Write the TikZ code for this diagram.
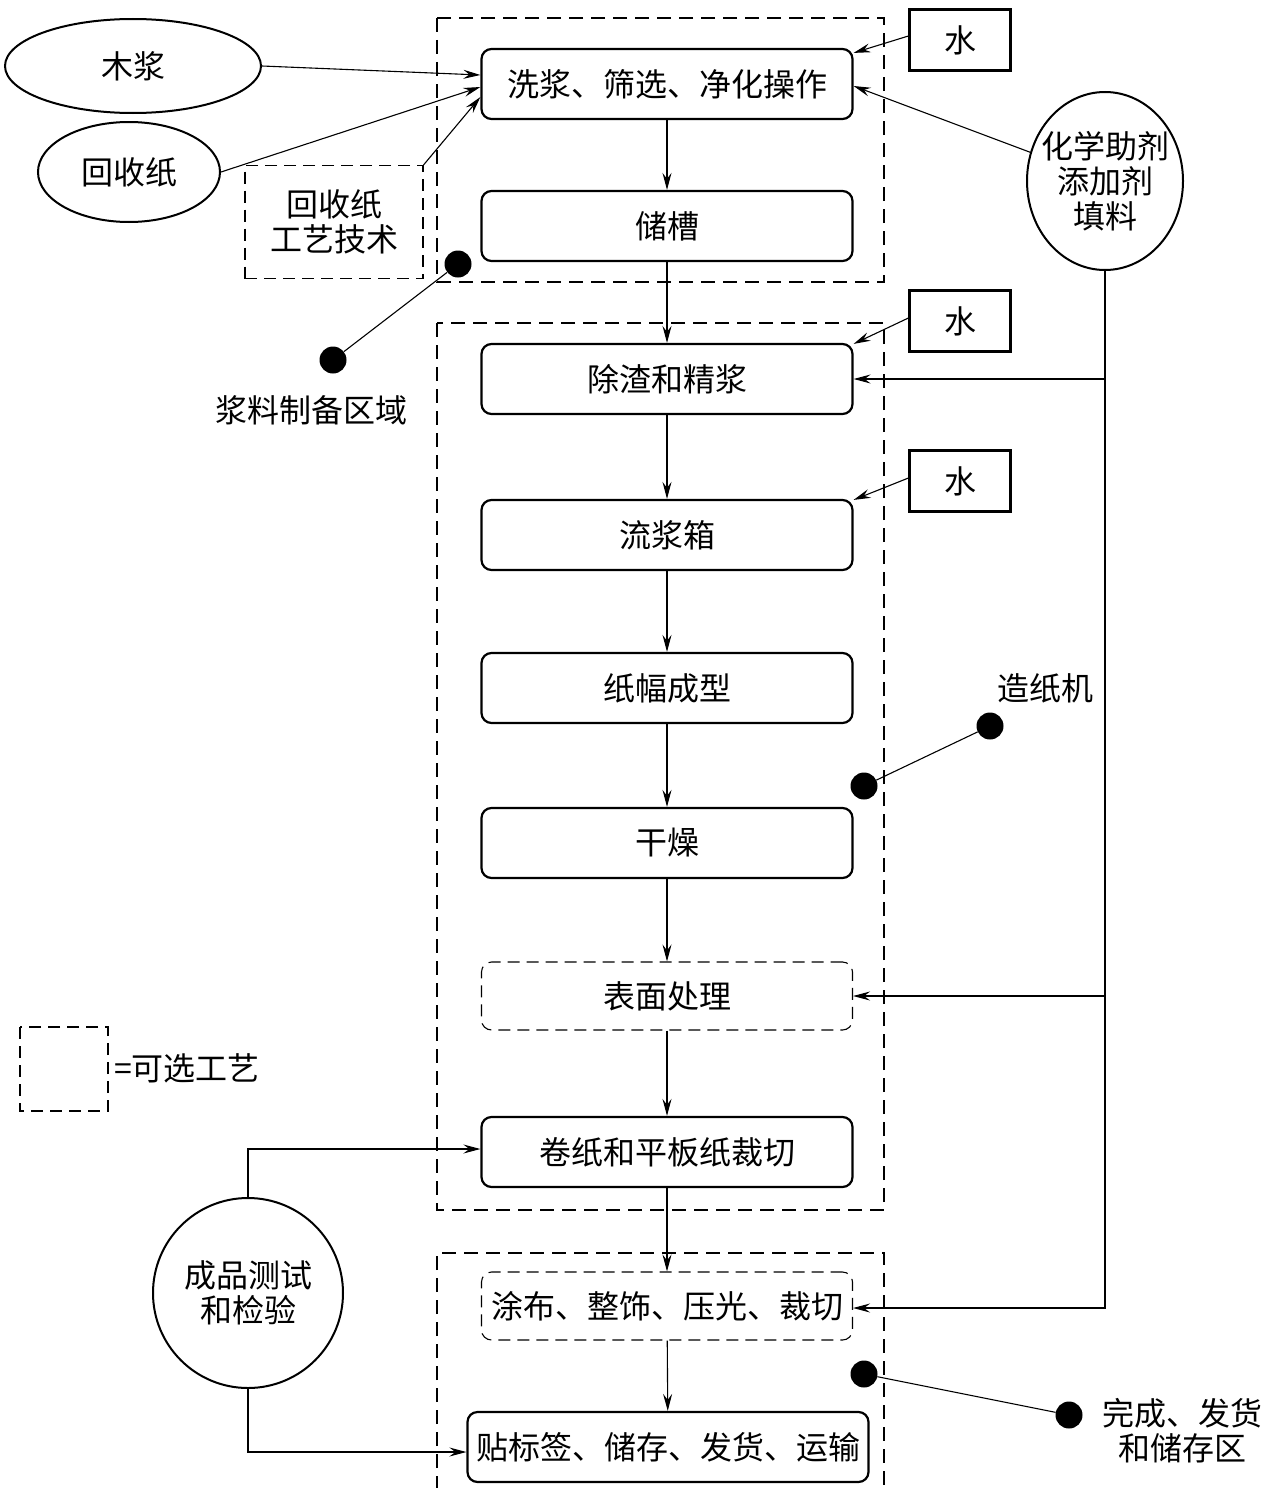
\documentclass[tikz,border=0pt]{standalone}
\usepackage{fontspec}
\newfontfamily\cjk{Noto Sans CJK SC}
\usetikzlibrary{shapes.geometric,arrows.meta,calc}
\tikzset{
  txt/.style={font=\cjk\fontsize{32pt}{35pt}\selectfont, align=center, inner sep=0pt},
  proc/.style={txt, draw, rounded corners=10pt, line width=2.2pt, minimum width=371pt, minimum height=70pt},
  optproc/.style={txt, draw, rounded corners=10pt, line width=1.1pt, dash pattern=on 12pt off 7pt, minimum width=371pt, minimum height=68pt},
  water/.style={txt, draw, line width=2.2pt, minimum width=101pt, minimum height=61pt},
  oval/.style={txt, draw, ellipse, line width=2pt},
  region/.style={line width=1.6pt, dash pattern=on 14pt off 8pt},
  arr/.style={line width=1.1pt, -{Stealth[length=17pt,width=9pt,inset=6pt]}},
  ln/.style={line width=1.1pt},
  dot/.style={circle, fill=black, minimum size=27pt, inner sep=0pt},
}
\begin{document}
\begin{tikzpicture}[x=1pt,y=-1pt]
\useasboundingbox (0,0) rectangle (1265,1488);
% regions
\draw[region] (437,18) rectangle (884,282);
\draw[region] (437,323) rectangle (884,1210);
\draw[region] (437,1490) -- (437,1253) -- (884,1253) -- (884,1490);
% process boxes
\node[proc] (wash) at (667,84) {洗浆、筛选、净化操作};
\node[proc] (tank) at (667,226) {储槽};
\node[proc] (refine) at (667,379) {除渣和精浆};
\node[proc] (head) at (667,535) {流浆箱};
\node[proc] (form) at (667,688) {纸幅成型};
\node[proc] (dry) at (667,843) {干燥};
\node[optproc] (surf) at (667,996) {表面处理};
\node[proc] (cut) at (667,1152) {卷纸和平板纸裁切};
\node[optproc] (coat) at (667,1306) {涂布、整饰、压光、裁切};
\node[proc, minimum width=401pt] (label) at (668,1447) {贴标签、储存、发货、运输};
% water
\node[water] (w1) at (960,40) {水};
\node[water] (w2) at (960,321) {水};
\node[water] (w3) at (960,481) {水};
% inputs
\node[oval, minimum width=256pt, minimum height=94pt] (pulp) at (133,66) {木浆};
\node[oval, minimum width=182pt, minimum height=100pt] (rec) at (129,172) {回收纸};
\node[txt, draw, line width=1.1pt, dash pattern=on 12pt off 7pt, minimum width=178pt, minimum height=113pt] (tech) at (334,222) {回收纸\\工艺技术};
\node[oval, minimum width=156pt, minimum height=178pt, label={[txt]center:化学助剂\\添加剂\\填料}] (chem) at (1105,181) {};
\node[oval, circle, minimum size=190pt] (test) at (248,1293) {成品测试\\和检验};
% legend
\draw[ln, dash pattern=on 12pt off 7pt] (20,1027) rectangle (108,1111);
\node[txt, anchor=west] (leg) at (114,1068) {=可选工艺};
% dots and area labels
\node[dot] (d1a) at (458,264) {};
\node[dot] (d1b) at (333,360) {};
\node[txt] (l1) at (311,410) {浆料制备区域};
\draw[ln] (d1a) -- (d1b);
\node[dot] (d2a) at (990,726) {};
\node[dot] (d2b) at (864,786) {};
\node[txt] (l2) at (1045,688) {造纸机};
\draw[ln] (d2a) -- (d2b);
\node[dot] (d3a) at (864,1374) {};
\node[dot] (d3b) at (1069,1415) {};
\node[txt] (l3) at (1182,1431) {完成、发货\\和储存区};
\draw[ln] (d3a) -- (d3b);
% main flow
\draw[arr] (wash) -- (tank);
\draw[arr] (tank) -- (refine);
\draw[arr] (refine) -- (head);
\draw[arr] (head) -- (form);
\draw[arr] (form) -- (dry);
\draw[arr] (dry) -- (surf);
\draw[arr] (surf) -- (cut);
\draw[arr] (cut) -- (coat);
\draw[arr] (coat) -- (label);
% inputs to wash
\draw[arr] (pulp.east) -- ([yshift=9pt]wash.west);
\draw[arr] (rec.east) -- ([yshift=-3pt]wash.west);
\draw[arr] (tech.north east) -- ([yshift=-13pt]wash.west);
\draw[arr] ([yshift=4pt]w1.west) -- ([yshift=-5pt]wash.north east);
\draw[arr] (chem.159) -- ([yshift=-2pt]wash.east);
\draw[arr] ([yshift=3pt]w2.west) -- ([yshift=-1pt]refine.north east);
\draw[arr] ([yshift=3pt]w3.west) -- ([yshift=-1pt]head.north east);
% chemical feed line
\draw[arr] (chem.south) |- (refine.east);
\draw[arr] (chem.south) |- (surf.east);
\draw[arr] (chem.south) |- ([yshift=-2pt]coat.east);
% testing
\draw[arr] (test.north) |- ([yshift=3pt]cut.west);
\draw[arr] (test.south) |- ([yshift=-5pt]label.west);
\end{tikzpicture}
\end{document}
